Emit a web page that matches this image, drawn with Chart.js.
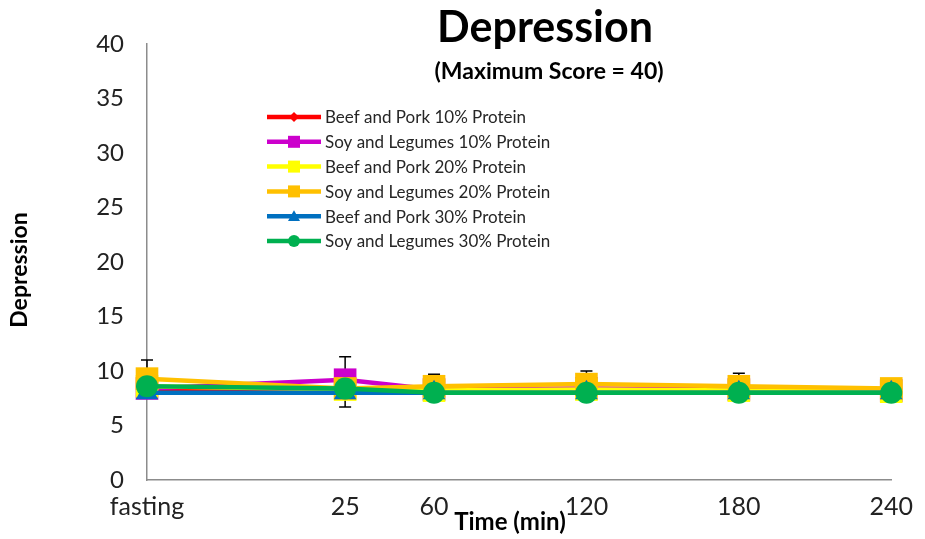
<!DOCTYPE html>
<html>
<head>
<meta charset="utf-8">
<script src="https://cdn.jsdelivr.net/npm/chart.js@4/dist/chart.umd.min.js"></script>
<style>
html, body { margin: 0; padding: 0; background: #fff; }
#wrap { width: 925px; height: 539px; position: relative; }
</style>
</head>
<body>
<div id="wrap"><canvas id="depressionChart"></canvas></div>
<script>
// Data
const timeLabels = ['fasting', '25', '60', '120', '180', '240'];
const timeValues = [-53, 25, 60, 120, 180, 240];
const yTicks = [0, 5, 10, 15, 20, 25, 30, 35, 40];

const seriesNames = [
    'Beef and Pork 10% Protein',
    'Soy and Legumes 10% Protein',
    'Beef and Pork 20% Protein',
    'Soy and Legumes 20% Protein',
    'Beef and Pork 30% Protein',
    'Soy and Legumes 30% Protein'
];
const beefPork10 = [8.2, 8.2, 8.1, 8.1, 8.1, 8.0];
const soyLegumes10 = [8.4, 9.2, 8.3, 8.4, 8.3, 8.2];
const beefPork20 = [8.6, 8.3, 8.2, 8.3, 8.2, 8.1];
const soyLegumes20 = [9.3, 8.4, 8.6, 8.8, 8.6, 8.4];
const beefPork30 = [8.0, 8.0, 8.0, 8.0, 8.0, 8.0];
const soyLegumes30 = [8.6, 8.4, 8.0, 8.0, 8.0, 8.0];

// error bar ends (absolute values), null = none
const errorTop = [11.0, 11.3, 9.7, 10.0, 9.8, null];
const errorBottom = [null, 6.7, null, null, null, null];
const errorBase = [9.3, 9.2, 8.6, 8.8, 8.6, 8.4];

const seriesValues = [beefPork10, soyLegumes10, beefPork20, soyLegumes20, beefPork30, soyLegumes30];
const seriesColors = ['#FF0000', '#CC00CC', '#FFFF00', '#FFC000', '#0070C0', '#00B050'];
const seriesStyles = ['rectRot', 'rect', 'rect', 'rect', 'triangle', 'circle'];
const seriesRadius = [8, 16, 16, 16, 13, 11];

const FONT = 'Lato, "Open Sans", sans-serif';

function toPoints(values) {
    return values.map(function(v, i) { return { x: timeValues[i], y: v }; });
}

// Error bars drawn under the markers
const errorBarPlugin = {
    id: 'errorBars',
    beforeDatasetsDraw: function(chart) {
        const ctx = chart.ctx;
        const xs = chart.scales.x;
        const ys = chart.scales.y;
        ctx.save();
        ctx.strokeStyle = '#000';
        ctx.lineWidth = 1.5;
        timeValues.forEach(function(t, i) {
            const x = xs.getPixelForValue(t);
            const yb = ys.getPixelForValue(errorBase[i]);
            [errorTop[i], errorBottom[i]].forEach(function(e) {
                if (e === null) return;
                const ye = ys.getPixelForValue(e);
                ctx.beginPath();
                ctx.moveTo(x, yb);
                ctx.lineTo(x, ye);
                ctx.moveTo(x - 6, ye);
                ctx.lineTo(x + 6, ye);
                ctx.stroke();
            });
        });
        ctx.restore();
    }
};

function drawMarker(ctx, style, x, y, r, color) {
    ctx.fillStyle = color;
    ctx.beginPath();
    if (style === 'rect') {
        ctx.rect(x - r, y - r, 2 * r, 2 * r);
    } else if (style === 'rectRot') {
        ctx.moveTo(x, y - r); ctx.lineTo(x + r, y); ctx.lineTo(x, y + r); ctx.lineTo(x - r, y);
        ctx.closePath();
    } else if (style === 'triangle') {
        ctx.moveTo(x, y - r); ctx.lineTo(x + r, y + r * 0.8); ctx.lineTo(x - r, y + r * 0.8);
        ctx.closePath();
    } else {
        ctx.arc(x, y, r, 0, Math.PI * 2);
    }
    ctx.fill();
}

// Titles and the in-plot legend
const textPlugin = {
    id: 'texts',
    afterDraw: function(chart) {
        const ctx = chart.ctx;
        ctx.save();
        ctx.fillStyle = '#000';
        ctx.textAlign = 'center';
        ctx.textBaseline = 'middle';
        ctx.font = 'bold 43px ' + FONT;
        ctx.fillText('Depression', 545, 28);
        ctx.font = 'bold 23px ' + FONT;
        ctx.fillText('(Maximum Score = 40)', 549, 72);
        ctx.font = 'bold 24px ' + FONT;
        ctx.fillText('Time (min)', 510, 522);
        ctx.save();
        ctx.translate(20, 270);
        ctx.rotate(-Math.PI / 2);
        ctx.font = 'bold 23px ' + FONT;
        ctx.fillText('Depression', 0, 0);
        ctx.restore();

        // legend
        ctx.textAlign = 'left';
        ctx.font = '17px ' + FONT;
        seriesNames.forEach(function(name, i) {
            const y = 117 + i * 24.8;
            ctx.strokeStyle = seriesColors[i];
            ctx.lineWidth = 4.5;
            ctx.beginPath();
            ctx.moveTo(267, y);
            ctx.lineTo(321, y);
            ctx.stroke();
            const r = seriesStyles[i] === 'rectRot' ? 5 : 6;
            drawMarker(ctx, seriesStyles[i], 294, y, r, seriesColors[i]);
            ctx.fillStyle = '#262626';
            ctx.fillText(name, 325, y + 1);
        });
        ctx.restore();
    }
};

let depressionChart = null;

function initializeChart() {
    const ctx = document.getElementById('depressionChart');
    depressionChart = new Chart(ctx, {
        type: 'line',
        data: {
            datasets: seriesNames.map(function(name, i) {
                return {
                    label: name,
                    data: toPoints(seriesValues[i]),
                    borderColor: seriesColors[i],
                    backgroundColor: seriesColors[i],
                    borderWidth: 4.5,
                    pointStyle: seriesStyles[i],
                    pointRadius: seriesRadius[i],
                    pointBorderWidth: 0,
                    pointBackgroundColor: seriesColors[i],
                    tension: 0,
                    fill: false,
                    clip: false,
                    order: seriesNames.length - i
                };
            })
        },
        options: {
            responsive: true,
            maintainAspectRatio: false,
            animation: false,
            layout: { padding: { top: 44, right: 33, left: 0, bottom: 0 } },
            plugins: {
                legend: { display: false },
                tooltip: { enabled: false }
            },
            scales: {
                x: {
                    type: 'linear',
                    min: timeValues[0],
                    max: timeValues[timeValues.length - 1],
                    grid: { display: false, drawTicks: false },
                    border: { color: '#8c8c8c', width: 1.5 },
                    afterBuildTicks: function(axis) {
                        axis.ticks = timeValues.map(function(v) { return { value: v }; });
                    },
                    afterFit: function(axis) { axis.height = 59; },
                    ticks: {
                        autoSkip: false,
                        maxRotation: 0,
                        padding: 12,
                        color: '#222',
                        font: { family: FONT, size: 25 },
                        callback: function(value) {
                            const i = timeValues.indexOf(value);
                            return i >= 0 ? timeLabels[i] : '';
                        }
                    }
                },
                y: {
                    min: 0,
                    max: 40,
                    grid: { display: false, drawTicks: false },
                    border: { color: '#8c8c8c', width: 1.5 },
                    afterBuildTicks: function(axis) {
                        axis.ticks = yTicks.map(function(v) { return { value: v }; });
                    },
                    afterFit: function(axis) { axis.width = 147; },
                    ticks: {
                        padding: 23,
                        color: '#222',
                        font: { family: FONT, size: 24 }
                    }
                }
            }
        },
        plugins: [errorBarPlugin, textPlugin]
    });
}

document.addEventListener('DOMContentLoaded', function() {
    if (typeof Chart !== 'undefined') {
        initializeChart();
    }
});
</script>
</body>
</html>
